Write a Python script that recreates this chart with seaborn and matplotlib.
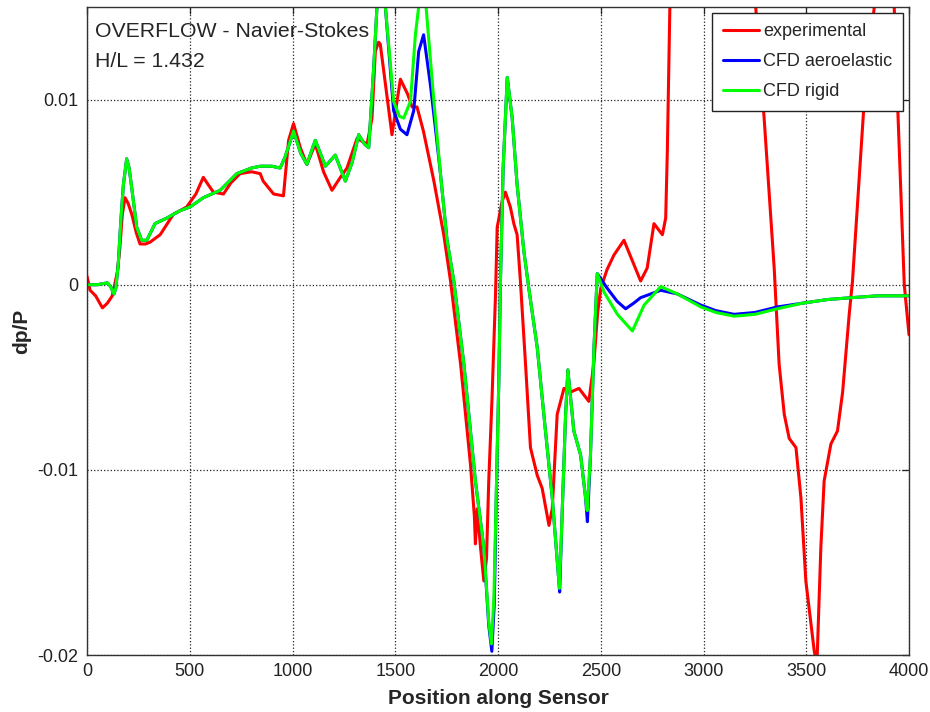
import numpy as np
import pandas as pd
import seaborn as sns
import matplotlib
matplotlib.use('Agg')
import matplotlib.pyplot as plt

# experimental
exp_x = [0, 15, 42, 75, 99, 123, 148, 160, 172, 185, 200, 218, 240, 258, 285, 307, 356, 420, 485, 530,
         566, 590, 615, 664, 700, 745, 800, 843, 857, 908, 956, 981, 1005, 1038, 1070, 1111, 1151, 1192,
         1233, 1265, 1314, 1363, 1387, 1403, 1419, 1427, 1455, 1484, 1525, 1560, 1582, 1606, 1637, 1688,
         1736, 1769, 1818, 1866, 1885, 1890, 1899, 1915, 1931, 1944, 1955, 1971, 1988, 1996, 2020, 2036,
         2060, 2077, 2093, 2109, 2134, 2158, 2191, 2215, 2248, 2264, 2288, 2321, 2353, 2394, 2442, 2466,
         2485, 2500, 2530, 2564, 2613, 2661, 2694, 2726, 2759, 2800, 2816, 2824, 2836, 2860, 3000, 3150,
         3254, 3295, 3344, 3368, 3393, 3417, 3450, 3474, 3498, 3539, 3552, 3571, 3587, 3620, 3652, 3677,
         3709, 3725, 3782, 3831, 3880, 3928, 3944, 3977, 3990, 4000]
exp_y = [0.00046, -0.0003, -0.0006, -0.00125, -0.001, -0.0006, 0.0007, 0.002, 0.0038, 0.0047, 0.0044,
         0.0038, 0.0028, 0.0022, 0.0022, 0.0023, 0.0027, 0.0038, 0.0042, 0.0049, 0.0058, 0.0054, 0.005,
         0.0049, 0.0055, 0.006, 0.0061, 0.006, 0.0056, 0.0049, 0.0048, 0.0078, 0.0087, 0.0074, 0.0065,
         0.0076, 0.0061, 0.0051, 0.0058, 0.0063, 0.0079, 0.0076, 0.009, 0.0126, 0.0131, 0.013, 0.0106,
         0.0081, 0.0111, 0.0103, 0.0096, 0.0096, 0.0083, 0.0056, 0.0027, 0.0002, -0.0043, -0.0097,
         -0.0125, -0.014, -0.0121, -0.0142, -0.016, -0.0148, -0.0106, -0.0061, -0.0005, 0.0031, 0.0045,
         0.005, 0.0042, 0.0033, 0.0027, 0.0002, -0.0043, -0.0088, -0.0103, -0.011, -0.013, -0.0121,
         -0.007, -0.0056, -0.0058, -0.0056, -0.0063, -0.0043, -0.0015, -0.0002, 0.0008, 0.0016, 0.0024,
         0.0011, 0.0002, 0.0009, 0.0033, 0.0027, 0.0036, 0.0072, 0.0148, 0.024, 0.033, 0.03, 0.015, 0.009,
         0.0009, -0.0043, -0.007, -0.0083, -0.0088, -0.0115, -0.016, -0.0198, -0.0205, -0.0142, -0.0106,
         -0.0086, -0.0079, -0.0058, -0.0016, 0.0002, 0.0099, 0.015, 0.019, 0.015, 0.0099, 0.0, -0.0015,
         -0.0027]

# CFD aeroelastic
aero_x = [0, 50, 99, 115, 131, 140, 152, 165, 177, 193, 205, 218, 242, 266, 291, 331, 388, 453, 502, 566,
          648, 729, 800, 843, 900, 940, 964, 1005, 1040, 1070, 1111, 1160, 1208, 1257, 1290, 1322, 1350,
          1371, 1395, 1411, 1432, 1452, 1492, 1525, 1557, 1590, 1614, 1638, 1671, 1695, 1720, 1752, 1785,
          1834, 1890, 1931, 1955, 1970, 1982, 1993, 2004, 2012, 2025, 2045, 2069, 2093, 2126, 2150, 2191,
          2231, 2264, 2296, 2300, 2312, 2329, 2340, 2369, 2402, 2426, 2435, 2450, 2467, 2483, 2532, 2580,
          2621, 2660, 2694, 2792, 2873, 2987, 3060, 3149, 3250, 3360, 3480, 3604, 3720, 3847, 4000]
aero_y = [0.0, 0.0, 0.0001, -0.0001, -0.0005, -0.0002, 0.0011, 0.0035, 0.0054, 0.0068, 0.0063, 0.0052,
          0.0031, 0.0024, 0.0024, 0.0033, 0.0036, 0.004, 0.0042, 0.0047, 0.0051, 0.006, 0.0063, 0.0064,
          0.0064, 0.0063, 0.0069, 0.0083, 0.0071, 0.0065, 0.0078, 0.0064, 0.007, 0.0056, 0.0066, 0.0081,
          0.0076, 0.0074, 0.0117, 0.015, 0.0168, 0.015, 0.0094, 0.0084, 0.0081, 0.0094, 0.0126, 0.0135,
          0.0108, 0.0085, 0.006, 0.0024, 0.0002, -0.0043, -0.0106, -0.0142, -0.0184, -0.0198, -0.0172,
          -0.0106, -0.0052, 0.0002, 0.0063, 0.0112, 0.009, 0.0054, 0.0018, -0.0002, -0.0034, -0.0079,
          -0.0115, -0.016, -0.0166, -0.0124, -0.007, -0.0046, -0.0079, -0.0092, -0.0115, -0.0128, -0.0092,
          -0.0034, 0.0006, -0.0002, -0.0009, -0.0013, -0.001, -0.0007, -0.0003, -0.0005, -0.0011, -0.0014,
          -0.0016, -0.0015, -0.0012, -0.001, -0.0008, -0.0007, -0.0006, -0.0006]

# CFD rigid
rigid_x = [0, 50, 99, 115, 131, 140, 152, 165, 177, 193, 205, 218, 242, 266, 291, 331, 388, 453, 502, 566,
           648, 729, 800, 843, 900, 940, 964, 1005, 1040, 1070, 1111, 1160, 1208, 1257, 1290, 1322, 1350,
           1371, 1395, 1411, 1432, 1452, 1492, 1520, 1541, 1574, 1598, 1614, 1633, 1650, 1688, 1720, 1752,
           1785, 1834, 1890, 1931, 1955, 1968, 1980, 1993, 2004, 2012, 2025, 2045, 2069, 2093, 2126, 2150,
           2191, 2231, 2264, 2296, 2299, 2312, 2329, 2340, 2369, 2402, 2426, 2434, 2450, 2467, 2483, 2516,
           2581, 2654, 2711, 2792, 2873, 2987, 3060, 3149, 3250, 3360, 3480, 3604, 3720, 3847, 4000]
rigid_y = [0.0, 0.0, 0.0001, -0.0001, -0.0005, -0.0002, 0.0011, 0.0035, 0.0054, 0.0068, 0.0063, 0.0052,
           0.0031, 0.0024, 0.0024, 0.0033, 0.0036, 0.004, 0.0042, 0.0047, 0.0051, 0.006, 0.0063, 0.0064,
           0.0064, 0.0063, 0.0069, 0.0083, 0.0071, 0.0065, 0.0078, 0.0064, 0.007, 0.0056, 0.0066, 0.0081,
           0.0076, 0.0074, 0.0117, 0.015, 0.0168, 0.015, 0.0099, 0.0091, 0.009, 0.0099, 0.0135, 0.015,
           0.0168, 0.015, 0.0099, 0.006, 0.0024, 0.0002, -0.0043, -0.0106, -0.0142, -0.0182, -0.0194,
           -0.0169, -0.0106, -0.0052, 0.0002, 0.0063, 0.0112, 0.009, 0.0054, 0.0018, -0.0002, -0.0034,
           -0.0079, -0.0115, -0.016, -0.0164, -0.0124, -0.007, -0.0046, -0.0079, -0.0092, -0.0115, -0.0122,
           -0.0092, -0.0034, 0.0006, -0.0004, -0.0016, -0.0025, -0.0011, -0.0001, -0.0005, -0.0012,
           -0.0015, -0.0017, -0.0016, -0.0013, -0.001, -0.0008, -0.0007, -0.0006, -0.0006]

series_names = ['experimental', 'CFD aeroelastic', 'CFD rigid']
series_colors = ['#ff0000', '#0000ff', '#00ff00']
x_ticks = [0, 500, 1000, 1500, 2000, 2500, 3000, 3500, 4000]
y_ticks = [-0.02, -0.01, 0, 0.01]
y_tick_labels = ['-0.02', '-0.01', '0', '0.01']

df = pd.concat([
    pd.DataFrame({'pos': exp_x, 'dpP': exp_y, 'series': series_names[0]}),
    pd.DataFrame({'pos': aero_x, 'dpP': aero_y, 'series': series_names[1]}),
    pd.DataFrame({'pos': rigid_x, 'dpP': rigid_y, 'series': series_names[2]}),
], ignore_index=True)

sns.set_style('white')
plt.rcParams['font.family'] = ['Liberation Sans', 'DejaVu Sans']

fig = plt.figure(figsize=(9.3, 7.12), dpi=100)
ax = fig.add_axes([87 / 930, 57 / 712, 822 / 930, 648 / 712])

sns.lineplot(data=df, x='pos', y='dpP', hue='series', hue_order=series_names,
             palette=dict(zip(series_names, series_colors)), sort=False, estimator=None,
             linewidth=2.2, ax=ax)

ax.set_xlim(0, 4000)
ax.set_ylim(-0.02, 0.015)
ax.set_xticks(x_ticks)
ax.set_xticklabels([str(t) for t in x_ticks])
ax.set_yticks(y_ticks)
ax.set_yticklabels(y_tick_labels)
ax.grid(True, linestyle=':', linewidth=0.9, color='#222222')
ax.tick_params(direction='in', length=5, width=0.9, top=True, right=True,
               labelsize=13, pad=6, colors='#222222')
for s in ax.spines.values():
    s.set_linewidth(1.0)
    s.set_color('#333333')

ax.set_xlabel('Position along Sensor', fontsize=15, fontweight='bold', labelpad=6)
ax.set_ylabel('dp/P', fontsize=15, fontweight='bold', labelpad=5)

ax.text(39, 0.01365, 'OVERFLOW - Navier-Stokes', fontsize=15.3, va='center', ha='left')
ax.text(39, 0.01203, 'H/L = 1.432', fontsize=15.3, va='center', ha='left')

leg = ax.legend(loc='upper right', bbox_to_anchor=(1 - 6 / 822, 1 - 6 / 648), fontsize=13,
                frameon=True, fancybox=False, edgecolor='#222222', framealpha=1,
                handlelength=2.0, handletextpad=0.25, labelspacing=0.72, borderpad=0.58,
                borderaxespad=0)
leg.get_frame().set_linewidth(1.0)
for line in leg.get_lines():
    line.set_linewidth(2.2)

fig.savefig('out.png', dpi=100)
